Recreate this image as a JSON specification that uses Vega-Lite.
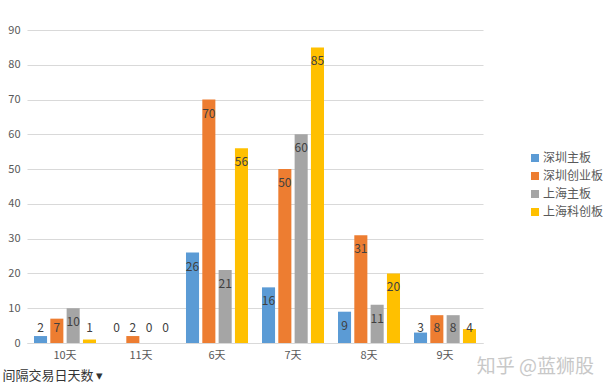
{
  "$schema": "https://vega.github.io/schema/vega-lite/v6.json",
  "width": 456,
  "height": 313,
  "autosize": "none",
  "padding": {"left": 27, "top": 30, "right": 129, "bottom": 49},
  "background": "white",
  "config": {"view": {"stroke": null}, "font": "Noto Sans CJK SC"},
  "title": {"text": "知乎 @蓝狮股", "orient": "bottom", "anchor": "end", "color": "#c8c8c8", "fontSize": 19, "fontWeight": "normal", "dx": -10, "dy": -28},
  "data": {"values": [
    {"days": "10天", "board": "深圳主板", "value": 2},
    {"days": "10天", "board": "深圳创业板", "value": 7},
    {"days": "10天", "board": "上海主板", "value": 10},
    {"days": "10天", "board": "上海科创板", "value": 1},
    {"days": "11天", "board": "深圳主板", "value": 0},
    {"days": "11天", "board": "深圳创业板", "value": 2},
    {"days": "11天", "board": "上海主板", "value": 0},
    {"days": "11天", "board": "上海科创板", "value": 0},
    {"days": "6天", "board": "深圳主板", "value": 26},
    {"days": "6天", "board": "深圳创业板", "value": 70},
    {"days": "6天", "board": "上海主板", "value": 21},
    {"days": "6天", "board": "上海科创板", "value": 56},
    {"days": "7天", "board": "深圳主板", "value": 16},
    {"days": "7天", "board": "深圳创业板", "value": 50},
    {"days": "7天", "board": "上海主板", "value": 60},
    {"days": "7天", "board": "上海科创板", "value": 85},
    {"days": "8天", "board": "深圳主板", "value": 9},
    {"days": "8天", "board": "深圳创业板", "value": 31},
    {"days": "8天", "board": "上海主板", "value": 11},
    {"days": "8天", "board": "上海科创板", "value": 20},
    {"days": "9天", "board": "深圳主板", "value": 3},
    {"days": "9天", "board": "深圳创业板", "value": 8},
    {"days": "9天", "board": "上海主板", "value": 8},
    {"days": "9天", "board": "上海科创板", "value": 4}
  ]},
  "encoding": {
    "x": {
      "field": "days", "type": "nominal",
      "sort": ["10天", "11天", "6天", "7天", "8天", "9天"],
      "scale": {"paddingInner": 0.184, "paddingOuter": 0.092},
      "axis": {
        "title": "间隔交易日天数 ▾", "titleX": -25, "titleY": 32, "titleAlign": "left", "titleBaseline": "middle",
        "titleFontSize": 13, "titleFontWeight": "normal", "titleColor": "#333333",
        "labelAngle": 0, "labelFontSize": 11, "labelColor": "#595959", "labelPadding": 6,
        "ticks": false, "domainColor": "#d9d9d9"
      }
    },
    "xOffset": {
      "field": "board", "type": "nominal",
      "sort": ["深圳主板", "深圳创业板", "上海主板", "上海科创板"],
      "scale": {"paddingInner": 0.2}
    }
  },
  "layer": [
    {
      "mark": {"type": "bar"},
      "encoding": {
        "y": {
          "field": "value", "type": "quantitative",
          "scale": {"domain": [0, 90], "nice": false},
          "axis": {
            "title": null, "values": [0, 10, 20, 30, 40, 50, 60, 70, 80, 90], "tickCount": 10, "labelOverlap": false,
            "domain": false, "ticks": false, "gridColor": "#d9d9d9",
            "labelFontSize": 11, "labelColor": "#595959", "labelPadding": 7
          }
        },
        "color": {
          "field": "board", "type": "nominal",
          "sort": ["深圳主板", "深圳创业板", "上海主板", "上海科创板"],
          "scale": {"domain": ["深圳主板", "深圳创业板", "上海主板", "上海科创板"], "range": ["#5B9BD5", "#ED7D31", "#A5A5A5", "#FFC000"]},
          "legend": {
            "title": null, "orient": "none", "legendX": 502, "legendY": 122,
            "symbolType": "square", "symbolSize": 64, "symbolStrokeWidth": 0, "labelOffset": 2,
            "labelFontSize": 12, "labelColor": "#595959", "rowPadding": 6, "padding": 0
          }
        }
      }
    },
    {
      "transform": [{"filter": "datum.value >= 9"}],
      "mark": {"type": "text", "dy": 14, "fontSize": 12, "color": "#404040"},
      "encoding": {
        "y": {
          "field": "value", "type": "quantitative",
          "axis": {
            "title": null, "values": [0, 10, 20, 30, 40, 50, 60, 70, 80, 90], "tickCount": 10, "labelOverlap": false,
            "domain": false, "ticks": false, "gridColor": "#d9d9d9",
            "labelFontSize": 11, "labelColor": "#595959", "labelPadding": 7
          }
        },
        "text": {"field": "value", "type": "quantitative"}
      }
    },
    {
      "transform": [{"filter": "datum.value < 9"}],
      "mark": {"type": "text", "dy": -15, "fontSize": 12, "color": "#404040"},
      "encoding": {
        "y": {
          "datum": 0,
          "axis": {
            "title": null, "values": [0, 10, 20, 30, 40, 50, 60, 70, 80, 90], "tickCount": 10, "labelOverlap": false,
            "domain": false, "ticks": false, "gridColor": "#d9d9d9",
            "labelFontSize": 11, "labelColor": "#595959", "labelPadding": 7
          }
        },
        "text": {"field": "value", "type": "quantitative"}
      }
    }
  ]
}
